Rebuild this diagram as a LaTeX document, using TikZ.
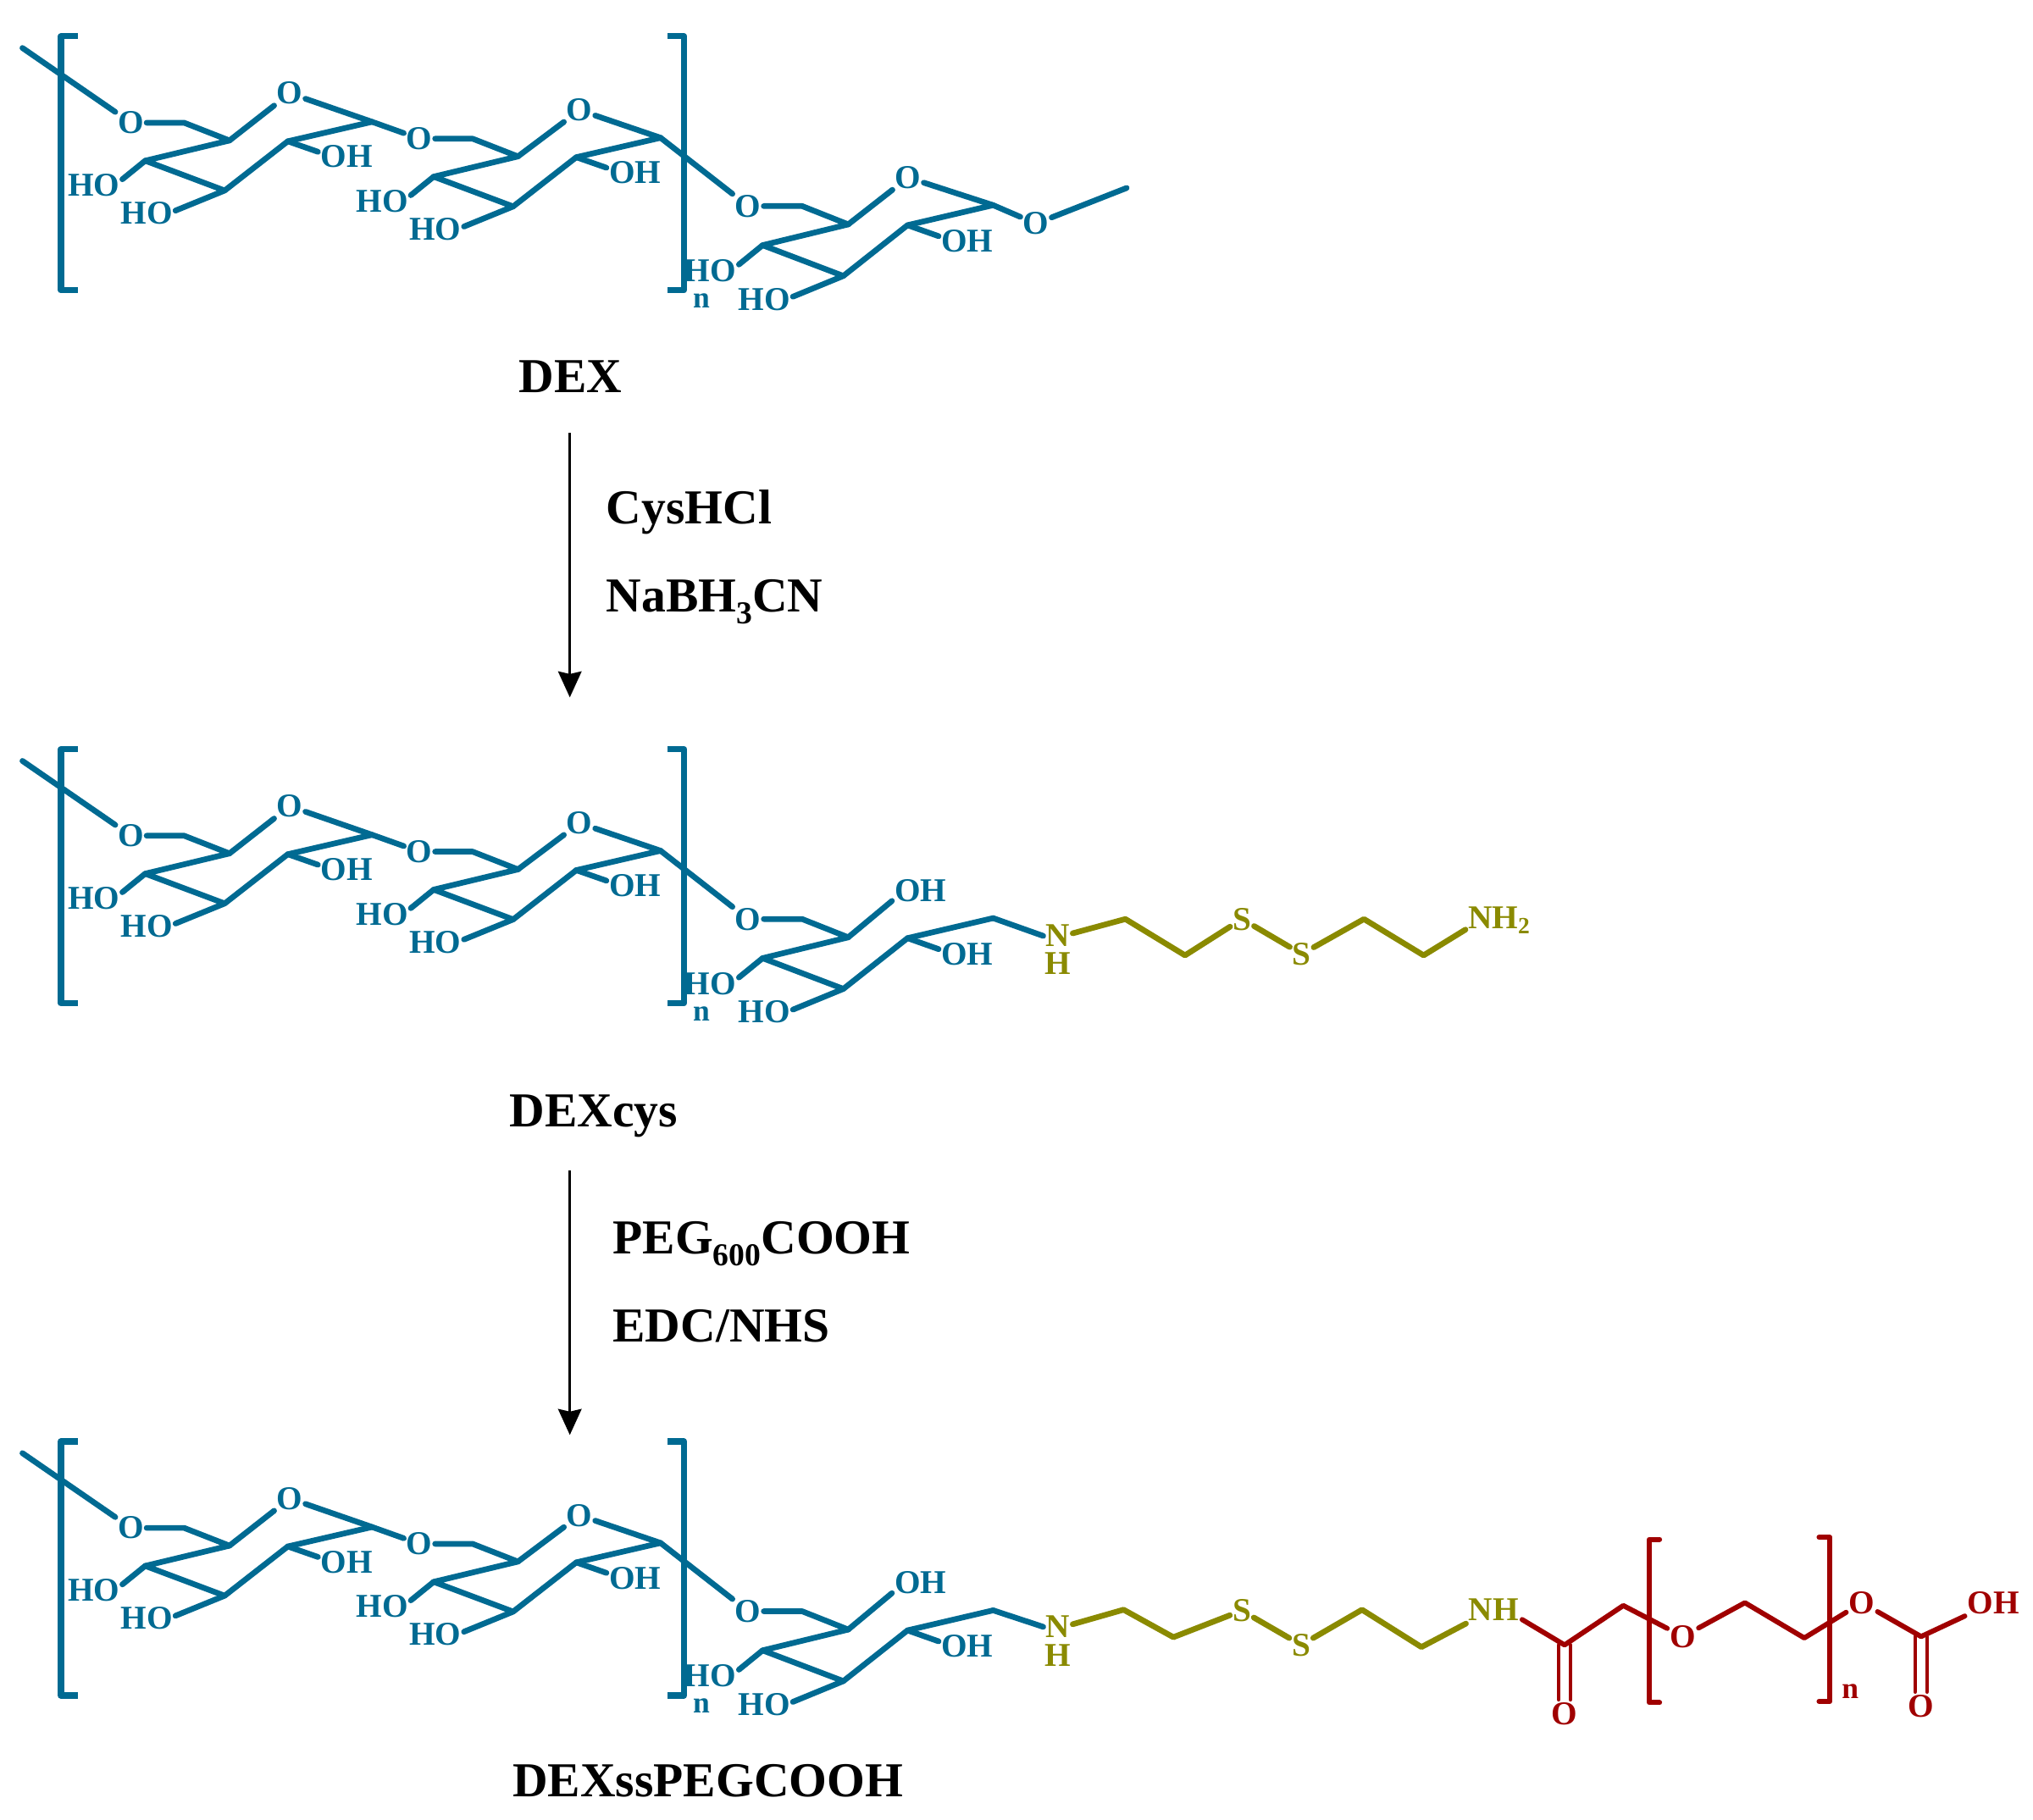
\documentclass[tikz,border=0pt]{standalone}
\usepackage{fontspec}
\setmainfont{Liberation Serif}
\usepackage{xcolor}
\usetikzlibrary{positioning, arrows.meta}
\definecolor{dexblue}{RGB}{0,106,146}
\definecolor{cysolive}{RGB}{138,138,0}
\definecolor{pegred}{RGB}{160,0,0}
\newcommand{\lowsub}[1]{\raisebox{-0.55ex}{\fontsize{7}{8}\selectfont #1}}
\tikzset{
  atom/.style={inner sep=0.4pt, font=\fontsize{7.3}{8}\selectfont\bfseries},
  bond/.style={line width=1.25pt, line cap=round, line join=round},
  redbond/.style={line width=1.1pt, line cap=round, line join=round},
  thinbond/.style={line width=0.8pt, line cap=round, line join=round},
  bracket/.style={line width=1.35pt, line join=round},
  caption/.style={inner sep=0pt, anchor=base, font=\fontsize{10.7}{12}\selectfont\bfseries},
  step arrow/.style={line width=0.6pt, -{Stealth[length=2mm, width=1.8mm, inset=0.2mm]}},
  pics/sugar/.style={code={
    \coordinate (-ch2) at (41,0);
    \coordinate (-c5) at (76,13.7);
    \coordinate (-c4) at (11,29.3);
    \coordinate (-c3) at (72.3,52.3);
    \coordinate (-c2) at (121,14.3);
    \coordinate (-c1) at (186,-0.7);
    \node[atom] (-o6) at (0,0) {O};
    \node[atom] (-ho1) at (-28.7,48.3) {HO};
    \node[atom] (-ho2) at (12.3,69.7) {HO};
    \node[atom] (-oh) at (166.3,26.3) {OH};
    \draw[bond] (-o6) -- (-ch2) -- (-c5) -- (-c4) -- (-c3) -- (-c2) -- (-c1);
    \draw[bond] (-c4) -- (-ho1.12);
    \draw[bond] (-c3) -- (-ho2.5);
    \draw[bond] (-c2) -- (-oh.170);
  }},
}

\begin{document}
\begin{tikzpicture}[x=0.01cm, y=-0.01cm]
  \useasboundingbox (0,0) rectangle (1568,1403.4);
  % the dextran part, same in all three rows
  \foreach \row/\dy in {1/0, 2/550, 3/1084} {
    \begin{scope}[shift={(0,\dy)}, color=dexblue]
      \draw[bracket] (60,28) -- (47,28) -- (47,224) -- (60,224);
      \draw[bracket] (515,28) -- (527.5,28) -- (527.5,224) -- (515,224);
      \coordinate (r\row-tail) at (17.3,37);
      \pic (r\row-a) at (101,94.7) {sugar};
      \pic (r\row-b) at (323.5,107) {sugar};
      \pic[xscale=1.016, yscale=1.03] (r\row-c) at (577,159) {sugar};
      \node[atom] (r\row-ringa) at (223.5,72) {O};
      \node[atom] (r\row-ringb) at (447,85) {O};
      \node[atom, inner sep=0pt, font=\fontsize{6.6}{7}\selectfont\bfseries] at (541,232) {n};
      \draw[bond] (r\row-tail) -- (r\row-a-o6);
      \draw[bond] (r\row-a-c5) -- (r\row-ringa) -- (r\row-a-c1) -- (r\row-b-o6);
      \draw[bond] (r\row-b-c5) -- (r\row-ringb) -- (r\row-b-c1) -- (r\row-c-o6);
    \end{scope}
  }
  % DEX end group
  \begin{scope}[color=dexblue]
    \node[atom] (ringc) at (700.4,137) {O};
    \node[atom] (ome) at (799,172.5) {O};
    \coordinate (metail) at (869,145);
    \draw[bond] (r1-c-c5) -- (ringc) -- (r1-c-c1) -- (ome) -- (metail);
  \end{scope}
  \node[caption] (dex) at (440,303) {DEX};
  % first step
  \coordinate (stepa) at (439.5,334);
  \coordinate (stepb) at (439.5,538);
  \draw[step arrow] (stepa) -- (stepb);
  \node[caption, anchor=base west] (cys) at (467,404) {CysHCl};
  \node[caption, anchor=base west] (nabh) at (467,472) {NaBH\lowsub{3}CN};
  % DEXcys
  \begin{scope}[color=dexblue]
    \node[atom] (oh2) at (710,687) {OH};
    \node[atom, text=cysolive] (n2) at (816,722) {N};
    \node[atom, text=cysolive] (h2) at (816,743) {H};
    \draw[bond] (r2-c-c5) -- (oh2.200);
    \draw[bond] (r2-c-c1) -- (n2.west);
  \end{scope}
  \begin{scope}[color=cysolive]
    \node[atom] (s2a) at (958,709) {S};
    \node[atom] (s2b) at (1004,736) {S};
    \node[atom] (nh2) at (1157,710) {NH\textsubscript{2}};
    \coordinate (k2a) at (868,709);
    \coordinate (k2b) at (914,737);
    \coordinate (k2c) at (1052,709);
    \coordinate (k2d) at (1098,737);
    \draw[bond] (n2.10) -- (k2a) -- (k2b) -- (s2a) -- (s2b) -- (k2c) -- (k2d) -- (nh2.195);
  \end{scope}
  \node[caption] (dexcys) at (458,869) {DEXcys};
  % second step
  \coordinate (stepc) at (439.5,903);
  \coordinate (stepd) at (439.5,1107);
  \draw[step arrow] (stepc) -- (stepd);
  \node[caption, anchor=base west] (peg) at (472,967) {PEG\lowsub{600}COOH};
  \node[caption, anchor=base west] (edc) at (472,1035) {EDC/NHS};
  % DEXssPEGCOOH
  \begin{scope}[color=dexblue]
    \node[atom] (oh3) at (710,1221) {OH};
    \node[atom, text=cysolive] (n3) at (816,1255) {N};
    \node[atom, text=cysolive] (h3) at (816,1277) {H};
    \draw[bond] (r3-c-c5) -- (oh3.200);
    \draw[bond] (r3-c-c1) -- (n3.west);
  \end{scope}
  \begin{scope}[color=cysolive]
    \node[atom] (s3a) at (957.8,1242.5) {S};
    \node[atom] (s3b) at (1003.6,1269) {S};
    \node[atom] (nh3) at (1152,1242) {NH};
    \coordinate (k3a) at (866.6,1241.8);
    \coordinate (k3b) at (905,1263);
    \coordinate (k3c) at (1050.5,1241.8);
    \coordinate (k3d) at (1096.3,1270.6);
    \draw[bond] (n3.10) -- (k3a) -- (k3b) -- (s3a) -- (s3b) -- (k3c) -- (k3d) -- (nh3.south west);
  \end{scope}
  \begin{scope}[color=pegred]
    \node[atom] (opeg) at (1298,1262.5) {O};
    \node[atom] (oest) at (1436,1236.4) {O};
    \node[atom] (ohend) at (1537.5,1236.4) {OH};
    \node[atom] (oa) at (1206.7,1322) {O};
    \node[atom] (ob) at (1481.7,1316) {O};
    \node[atom, inner sep=0pt, font=\fontsize{6.6}{7}\selectfont\bfseries] at (1427,1305) {n};
    \coordinate (p1) at (1174,1249.4);
    \coordinate (p2) at (1206.7,1269);
    \coordinate (p3) at (1252,1238.6);
    \coordinate (p4) at (1345.8,1236.4);
    \coordinate (p5) at (1391.6,1263.6);
    \coordinate (p6) at (1481.7,1262.5);
    \draw[redbond] (p1) -- (p2) -- (p3) -- (opeg) -- (p4) -- (p5) -- (oest) -- (p6) -- (ohend.205);
    \draw[thinbond] ([xshift=-1.3pt]p2) -- ([xshift=-1.3pt]oa.north);
    \draw[thinbond] ([xshift=1.3pt]p2) -- ([xshift=1.3pt]oa.north);
    \draw[thinbond] ([xshift=-1.3pt]p6) -- ([xshift=-1.3pt]ob.north);
    \draw[thinbond] ([xshift=1.3pt]p6) -- ([xshift=1.3pt]ob.north);
    \draw[redbond] (1280,1187.5) -- (1272,1187.5) -- (1272,1313.5) -- (1280,1313.5);
    \draw[redbond] (1403,1186) -- (1411.4,1186) -- (1411.4,1312.5) -- (1403,1312.5);
  \end{scope}
  \node[caption] (dexpeg) at (546,1386) {DEXssPEGCOOH};
\end{tikzpicture}
\end{document}
